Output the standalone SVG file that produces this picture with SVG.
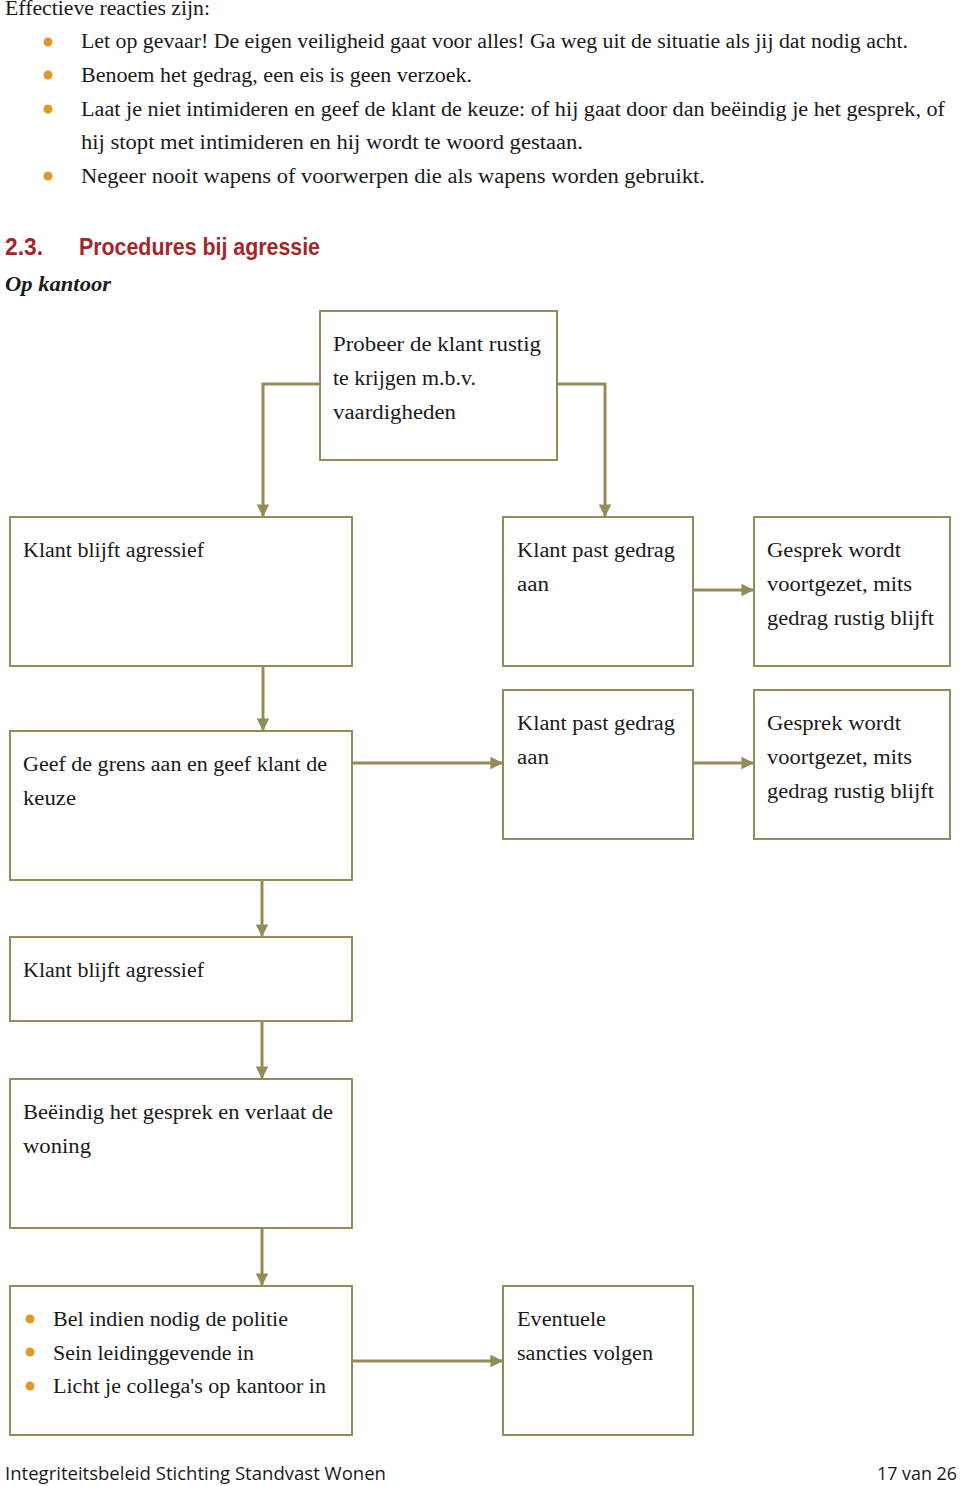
<svg xmlns="http://www.w3.org/2000/svg" width="960" height="1486" viewBox="0 0 960 1486">
<style>
.t{font-family:"Liberation Serif","DejaVu Serif",serif;font-size:20.5px;fill:#1a1a1a}
.box{fill:#fff;stroke:#958b56;stroke-width:2}
.con{stroke:#958b56;stroke-width:3;fill:none}
.bul{fill:#e3972a}
.h{font-family:"Liberation Sans","Open Sans",sans-serif;font-weight:bold;font-size:23px;fill:#a3262a}
.ft{font-family:"Open Sans","Liberation Sans",sans-serif;font-size:19px;fill:#1a1a1a}
</style>
<defs>
<marker id="ah" viewBox="0 0 10 10" refX="10" refY="5" markerWidth="4.2" markerHeight="4.2" orient="auto" markerUnits="strokeWidth">
<path d="M0,0 L10,5 L0,10 Z" fill="#958b56"/>
</marker>
</defs>
<rect width="960" height="1486" fill="#fff"/>

<g id="intro">
<text class="t" x="5" y="15" textLength="205" lengthAdjust="spacingAndGlyphs">Effectieve reacties zijn:</text>
<circle class="bul" cx="48" cy="42" r="4.5"/>
<circle class="bul" cx="48" cy="75" r="4.5"/>
<circle class="bul" cx="48" cy="109" r="4.5"/>
<circle class="bul" cx="48" cy="176" r="4.5"/>
<text class="t" x="81" y="48" textLength="827" lengthAdjust="spacingAndGlyphs">Let op gevaar! De eigen veiligheid gaat voor alles! Ga weg uit de situatie als jij dat nodig acht.</text>
<text class="t" x="81" y="82" textLength="391" lengthAdjust="spacingAndGlyphs">Benoem het gedrag, een eis is geen verzoek.</text>
<text class="t" x="81" y="116" textLength="864" lengthAdjust="spacingAndGlyphs">Laat je niet intimideren en geef de klant de keuze: of hij gaat door dan beëindig je het gesprek, of</text>
<text class="t" x="81" y="149" textLength="502" lengthAdjust="spacingAndGlyphs">hij stopt met intimideren en hij wordt te woord gestaan.</text>
<text class="t" x="81" y="183" textLength="624" lengthAdjust="spacingAndGlyphs">Negeer nooit wapens of voorwerpen die als wapens worden gebruikt.</text>
</g>

<g id="heading">
<text class="h" x="5" y="255" textLength="38" lengthAdjust="spacingAndGlyphs">2.3.</text>
<text class="h" x="79" y="255" textLength="241" lengthAdjust="spacingAndGlyphs">Procedures bij agressie</text>
<text class="t" x="5" y="291" style="font-weight:bold;font-style:italic" textLength="106" lengthAdjust="spacingAndGlyphs">Op kantoor</text>
</g>

<g id="connectors">
<polyline class="con" points="320,384 263,384 263,517" marker-end="url(#ah)"/>
<polyline class="con" points="557,384 605,384 605,517" marker-end="url(#ah)"/>
<line class="con" x1="693" y1="590" x2="754" y2="590" marker-end="url(#ah)"/>
<line class="con" x1="263" y1="666" x2="263" y2="731" marker-end="url(#ah)"/>
<line class="con" x1="352" y1="763" x2="503" y2="763" marker-end="url(#ah)"/>
<line class="con" x1="693" y1="763" x2="754" y2="763" marker-end="url(#ah)"/>
<line class="con" x1="262" y1="880" x2="262" y2="937" marker-end="url(#ah)"/>
<line class="con" x1="262" y1="1021" x2="262" y2="1079" marker-end="url(#ah)"/>
<line class="con" x1="262" y1="1228" x2="262" y2="1286" marker-end="url(#ah)"/>
<line class="con" x1="352" y1="1361" x2="503" y2="1361" marker-end="url(#ah)"/>
</g>

<g id="n-probeer">
<rect class="box" x="320" y="311" width="237" height="149"/>
<text class="t" x="333" y="351" textLength="208" lengthAdjust="spacingAndGlyphs">Probeer de klant rustig</text>
<text class="t" x="333" y="385" textLength="143" lengthAdjust="spacingAndGlyphs">te krijgen m.b.v.</text>
<text class="t" x="333" y="419" textLength="123" lengthAdjust="spacingAndGlyphs">vaardigheden</text>
</g>

<g id="n-agressief1">
<rect class="box" x="10" y="517" width="342" height="149"/>
<text class="t" x="23" y="557" textLength="181" lengthAdjust="spacingAndGlyphs">Klant blijft agressief</text>
</g>

<g id="n-past1">
<rect class="box" x="503" y="517" width="190" height="149"/>
<text class="t" x="517" y="557" textLength="158" lengthAdjust="spacingAndGlyphs">Klant past gedrag</text>
<text class="t" x="517" y="591" textLength="32" lengthAdjust="spacingAndGlyphs">aan</text>
</g>

<g id="n-gesprek1">
<rect class="box" x="754" y="517" width="196" height="149"/>
<text class="t" x="767" y="557" textLength="134" lengthAdjust="spacingAndGlyphs">Gesprek wordt</text>
<text class="t" x="767" y="591" textLength="145" lengthAdjust="spacingAndGlyphs">voortgezet, mits</text>
<text class="t" x="767" y="625" textLength="167" lengthAdjust="spacingAndGlyphs">gedrag rustig blijft</text>
</g>

<g id="n-grens">
<rect class="box" x="10" y="731" width="342" height="149"/>
<text class="t" x="23" y="771" textLength="304" lengthAdjust="spacingAndGlyphs">Geef de grens aan en geef klant de</text>
<text class="t" x="23" y="805" textLength="53" lengthAdjust="spacingAndGlyphs">keuze</text>
</g>

<g id="n-past2">
<rect class="box" x="503" y="690" width="190" height="149"/>
<text class="t" x="517" y="730" textLength="158" lengthAdjust="spacingAndGlyphs">Klant past gedrag</text>
<text class="t" x="517" y="764" textLength="32" lengthAdjust="spacingAndGlyphs">aan</text>
</g>

<g id="n-gesprek2">
<rect class="box" x="754" y="690" width="196" height="149"/>
<text class="t" x="767" y="730" textLength="134" lengthAdjust="spacingAndGlyphs">Gesprek wordt</text>
<text class="t" x="767" y="764" textLength="145" lengthAdjust="spacingAndGlyphs">voortgezet, mits</text>
<text class="t" x="767" y="798" textLength="167" lengthAdjust="spacingAndGlyphs">gedrag rustig blijft</text>
</g>

<g id="n-agressief2">
<rect class="box" x="10" y="937" width="342" height="84"/>
<text class="t" x="23" y="977" textLength="181" lengthAdjust="spacingAndGlyphs">Klant blijft agressief</text>
</g>

<g id="n-beeindig">
<rect class="box" x="10" y="1079" width="342" height="149"/>
<text class="t" x="23" y="1119" textLength="310" lengthAdjust="spacingAndGlyphs">Beëindig het gesprek en verlaat de</text>
<text class="t" x="23" y="1153" textLength="68" lengthAdjust="spacingAndGlyphs">woning</text>
</g>

<g id="n-acties">
<rect class="box" x="10" y="1286" width="342" height="149"/>
<circle class="bul" cx="30" cy="1319" r="4.5"/>
<circle class="bul" cx="30" cy="1352" r="4.5"/>
<circle class="bul" cx="30" cy="1386" r="4.5"/>
<text class="t" x="53" y="1326" textLength="235" lengthAdjust="spacingAndGlyphs">Bel indien nodig de politie</text>
<text class="t" x="53" y="1360" textLength="201" lengthAdjust="spacingAndGlyphs">Sein leidinggevende in</text>
<text class="t" x="53" y="1393" textLength="273" lengthAdjust="spacingAndGlyphs">Licht je collega's op kantoor in</text>
</g>

<g id="n-sancties">
<rect class="box" x="503" y="1286" width="190" height="149"/>
<text class="t" x="517" y="1326" textLength="89" lengthAdjust="spacingAndGlyphs">Eventuele</text>
<text class="t" x="517" y="1360" textLength="136" lengthAdjust="spacingAndGlyphs">sancties volgen</text>
</g>

<g id="footer">
<text class="ft" x="5" y="1480" textLength="381" lengthAdjust="spacingAndGlyphs">Integriteitsbeleid Stichting Standvast Wonen</text>
<text class="ft" x="877" y="1480" textLength="80" lengthAdjust="spacingAndGlyphs">17 van 26</text>
</g>
</svg>
